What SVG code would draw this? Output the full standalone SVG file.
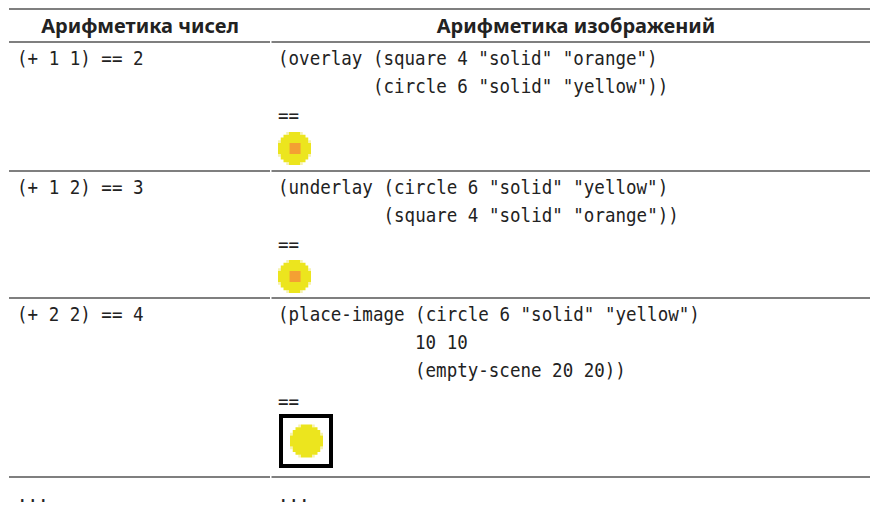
<svg xmlns="http://www.w3.org/2000/svg" width="870" height="505" viewBox="0 0 870 505">
  <style>
    .rule { stroke: #555; stroke-width: 1.6; fill: none; }
    .head { font-family: "Noto Sans", "Liberation Sans", sans-serif; font-size: 20px; font-weight: bold; fill: #222; text-anchor: middle; }
    .code { font-family: "DejaVu Sans Mono", "Liberation Mono", monospace; font-size: 20px; fill: #222; }
    .yel { fill: #ece51e; }
    .halo { fill: #f6f2b0; }
    .org { fill: #f4a033; }
  </style>
  <defs>
    <!-- 12x12 pixel circle, drawn in grid units -->
    <g id="dot">
      <rect class="halo" x="3" y="0" width="1" height="1"/>
      <rect class="halo" x="8" y="0" width="1" height="1"/>
      <rect class="halo" x="0" y="3" width="1" height="1"/>
      <rect class="halo" x="11" y="3" width="1" height="1"/>
      <rect class="halo" x="0" y="8" width="1" height="1"/>
      <rect class="halo" x="11" y="8" width="1" height="1"/>
      <rect class="halo" x="3" y="11" width="1" height="1"/>
      <rect class="halo" x="8" y="11" width="1" height="1"/>
      <path class="yel" d="M4 0H8V1H10V2H11V4H12V8H11V10H10V11H8V12H4V11H2V10H1V8H0V4H1V2H2V1H4Z"/>
    </g>
  </defs>

  <rect width="870" height="505" fill="#fff"/>

  <!-- table rules -->
  <g id="rules">
    <line class="rule" x1="9" y1="9" x2="870" y2="9"/>
    <line class="rule" x1="9" y1="42" x2="270" y2="42"/>
    <line class="rule" x1="271.5" y1="42" x2="870" y2="42"/>
    <line class="rule" x1="9" y1="171" x2="270" y2="171"/>
    <line class="rule" x1="271.5" y1="171" x2="870" y2="171"/>
    <line class="rule" x1="9" y1="298" x2="270" y2="298"/>
    <line class="rule" x1="271.5" y1="298" x2="870" y2="298"/>
    <line class="rule" x1="9" y1="477" x2="270" y2="477"/>
    <line class="rule" x1="271.5" y1="477" x2="870" y2="477"/>
  </g>

  <!-- header -->
  <g id="header">
    <text class="head" x="140" y="33">Арифметика чисел</text>
    <text class="head" x="576" y="33">Арифметика изображений</text>
  </g>

  <!-- row 1: overlay -->
  <g id="row1">
    <text class="code" transform="translate(17 65) scale(0.876 1)">(+ 1 1) == 2</text>
    <text class="code" transform="translate(278 65) scale(0.876 1)">(overlay (square 4 "solid" "orange")</text>
    <text class="code" transform="translate(373 93) scale(0.876 1)">(circle 6 "solid" "yellow"))</text>
    <text class="code" transform="translate(278 122) scale(0.876 1)">==</text>
    <g transform="translate(278 132) scale(2.75)">
      <use href="#dot"/>
      <rect class="org" x="4.2" y="4" width="4" height="4"/>
    </g>
  </g>

  <!-- row 2: underlay -->
  <g id="row2">
    <text class="code" transform="translate(17 194) scale(0.876 1)">(+ 1 2) == 3</text>
    <text class="code" transform="translate(278 194) scale(0.876 1)">(underlay (circle 6 "solid" "yellow")</text>
    <text class="code" transform="translate(383.5 222) scale(0.876 1)">(square 4 "solid" "orange"))</text>
    <text class="code" transform="translate(278 251) scale(0.876 1)">==</text>
    <g transform="translate(278 260) scale(2.75)">
      <use href="#dot"/>
      <rect class="org" x="4.2" y="4" width="4" height="4"/>
    </g>
  </g>

  <!-- row 3: place-image -->
  <g id="row3">
    <text class="code" transform="translate(17 321) scale(0.876 1)">(+ 2 2) == 4</text>
    <text class="code" transform="translate(278 321) scale(0.876 1)">(place-image (circle 6 "solid" "yellow")</text>
    <text class="code" transform="translate(415 349) scale(0.876 1)">10 10</text>
    <text class="code" transform="translate(415 377) scale(0.876 1)">(empty-scene 20 20))</text>
    <text class="code" transform="translate(278 408) scale(0.876 1)">==</text>
    <rect x="281" y="416" width="50" height="50" fill="#fff" stroke="#000" stroke-width="4"/>
    <g transform="translate(290 424.5) scale(2.75)">
      <use href="#dot"/>
    </g>
  </g>

  <!-- continuation row -->
  <g id="row4">
    <text class="code" transform="translate(17 502) scale(0.876 1)">...</text>
    <text class="code" transform="translate(278 502) scale(0.876 1)">...</text>
  </g>
</svg>
